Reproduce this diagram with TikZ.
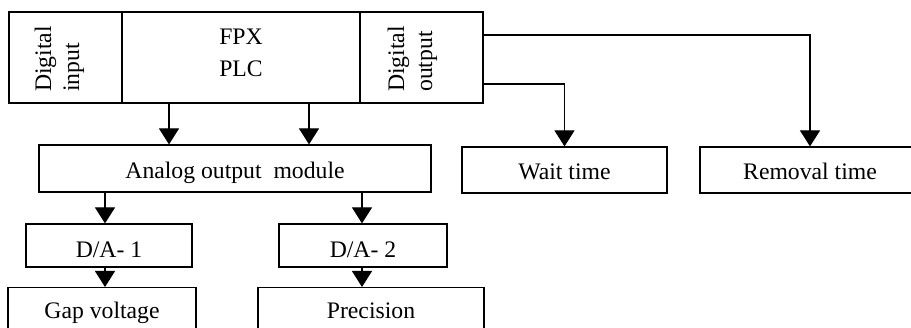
\documentclass[tikz,border=0pt]{standalone}
\usepackage{fontspec}
\setmainfont{Liberation Serif}
\usetikzlibrary{arrows.meta}
\tikzset{
  box/.style={draw, line width=1.2pt, inner sep=0pt, text height=20pt, text depth=0pt, anchor=center},
  dabox/.style={box, text height=24pt},
  openbox/.style={draw, line width=1.2pt, inner xsep=0pt, inner ysep=11pt, text height=20pt, text depth=40pt, anchor=north},
  lbl/.style={inner sep=0pt, anchor=base},
  vlbl/.style={inner sep=0pt, anchor=base west, rotate=90},
  arr/.style={line width=1.2pt, -{Triangle[length=16pt,width=20pt]}},
}
\begin{document}
\begin{tikzpicture}[x=1pt, y=-1pt, font=\fontsize{23.7}{28}\selectfont]
\useasboundingbox (0,0) rectangle (911,328);
\clip (0,0) rectangle (911,328);
% top row
\node[box, minimum width=113pt, minimum height=91pt] (din) at (65.5,57.5) {};
\node[box, minimum width=238pt, minimum height=91pt] (fpx) at (241,57.5) {};
\node[box, minimum width=123pt, minimum height=91pt] (dout) at (421.5,57.5) {};
\node[vlbl] (dint1) at (51,92) {Digital};
\node[vlbl] (dint2) at (79,92) {input};
\node[lbl] (fpxt1) at (241,45) {FPX};
\node[lbl] (fpxt2) at (241,77) {PLC};
\node[vlbl] (doutt1) at (404,92) {Digital};
\node[vlbl] (doutt2) at (432,92) {output};
% second row
\node[box, minimum width=392pt, minimum height=47pt] (ana) at (235,168.5) {Analog output\ \ module};
\node[box, minimum width=205pt, minimum height=46pt] (wait) at (564.5,170) {Wait time};
\node[box, minimum width=220pt, minimum height=46pt] (rem) at (810,170) {Removal time};
% third row
\node[dabox, minimum width=166pt, minimum height=43pt] (da1) at (109,245.5) {D/A- 1};
\node[dabox, minimum width=168pt, minimum height=43pt] (da2) at (363,245.5) {D/A- 2};
% bottom row (cut by the border)
\node[openbox, minimum width=188pt] (gap) at (102,287) {Gap voltage};
\node[openbox, minimum width=226pt] (prec) at (371,287) {Precision};
% connectors
\coordinate (c1) at (169,0);
\coordinate (c2) at (309,0);
\coordinate (c3) at (105,0);
\coordinate (c4) at (362,0);
\coordinate (r1) at (0,35);
\coordinate (r2) at (0,84);
\draw[arr] (c1 |- fpx.south) -- (c1 |- ana.north);
\draw[arr] (c2 |- fpx.south) -- (c2 |- ana.north);
\draw[arr] (c3 |- ana.south) -- (c3 |- da1.north);
\draw[arr] (c3 |- da1.south) -- (c3 |- gap.north);
\draw[arr] (c4 |- ana.south) -- (c4 |- da2.north);
\draw[arr] (c4 |- da2.south) -- (c4 |- prec.north);
\draw[arr] (dout.east |- r1) -| (rem.north);
\draw[arr] (dout.east |- r2) -| (wait.north);
\end{tikzpicture}
\end{document}
